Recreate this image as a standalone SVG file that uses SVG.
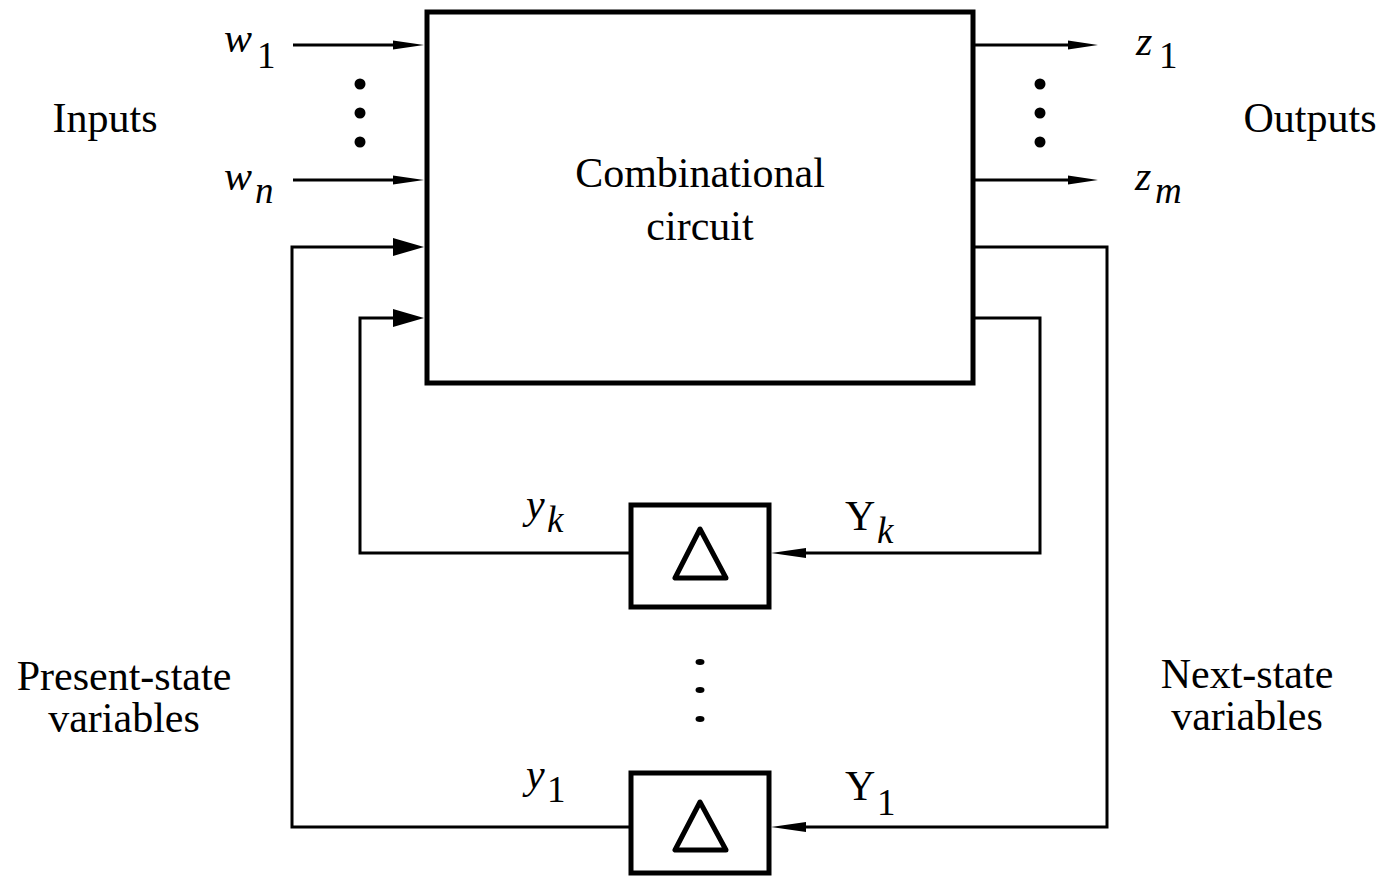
<svg xmlns="http://www.w3.org/2000/svg" width="1382" height="877" viewBox="0 0 1382 877">
<style>
.t{font-family:"Liberation Serif","Times New Roman",serif;font-size:42px;fill:#000}
.i{font-style:italic}
.s{font-size:37px}
.box{fill:none;stroke:#000;stroke-width:5}
.ln{fill:none;stroke:#000;stroke-width:3}
.ah{fill:#000;stroke:none}
.tri{fill:none;stroke:#000;stroke-width:5;stroke-linejoin:round}
</style>
<rect width="1382" height="877" fill="#fff"/>
<g id="comb">
<rect class="box" x="427" y="12" width="546" height="371"/>
<text class="t" x="700" y="187" text-anchor="middle">Combinational</text>
<text class="t" x="700" y="240" text-anchor="middle">circuit</text>
</g>
<g id="delay-k">
<rect class="box" x="631" y="505" width="138" height="102"/>
<polygon class="tri" points="700,529 675,578 726,578"/>
</g>
<g id="delay-1">
<rect class="box" x="631" y="773" width="138" height="100"/>
<polygon class="tri" points="700,802 675,850 726,850"/>
</g>
<g id="connectors">
<path class="ln" d="M293 45H396M293 180H396"/>
<polygon class="ah" points="393,40.5 424,45 393,49.5"/>
<polygon class="ah" points="393,175.5 424,180 393,184.5"/>
<path class="ln" d="M631 827H292V247H396"/>
<polygon class="ah" points="393,238 424,247 393,256"/>
<path class="ln" d="M631 553H360V318H396"/>
<polygon class="ah" points="393,309 424,318 393,327"/>
<path class="ln" d="M975 45H1070M975 180H1070"/>
<polygon class="ah" points="1068,40.5 1098,45 1068,49.5"/>
<polygon class="ah" points="1068,175.5 1098,180 1068,184.5"/>
<path class="ln" d="M975 247H1107V827H803"/>
<polygon class="ah" points="806,822 771,827 806,832"/>
<path class="ln" d="M975 318H1040V553H803"/>
<polygon class="ah" points="806,548 771,553 806,558"/>
</g>
<g id="dots">
<circle cx="360" cy="84" r="5.5"/>
<circle cx="360" cy="113" r="5.5"/>
<circle cx="360" cy="142" r="5.5"/>
<circle cx="1040" cy="84" r="5.5"/>
<circle cx="1040" cy="113" r="5.5"/>
<circle cx="1040" cy="142" r="5.5"/>
<ellipse cx="700" cy="662" rx="4.5" ry="3"/>
<ellipse cx="700" cy="690" rx="4.5" ry="3"/>
<ellipse cx="700" cy="719" rx="4.5" ry="3"/>
</g>
<g id="labels">
<text class="t" x="105" y="132" text-anchor="middle">Inputs</text>
<text class="t" x="1310" y="132" text-anchor="middle">Outputs</text>
<text class="t" x="124" y="690" text-anchor="middle">Present-state</text>
<text class="t" x="124" y="732" text-anchor="middle">variables</text>
<text class="t" x="1247" y="688" text-anchor="middle">Next-state</text>
<text class="t" x="1247" y="730" text-anchor="middle">variables</text>
<text class="t i" x="224" y="52">w</text><text class="t s" x="257" y="68">1</text>
<text class="t i" x="224" y="190">w</text><text class="t s i" x="255" y="203">n</text>
<text class="t i" x="1136" y="55">z</text><text class="t s" x="1159" y="68">1</text>
<text class="t i" x="1135" y="190">z</text><text class="t s i" x="1155" y="203">m</text>
<text class="t i" x="526" y="518">y</text><text class="t s i" x="547" y="532">k</text>
<text class="t" x="845" y="530">Y</text><text class="t s i" x="877" y="543">k</text>
<text class="t i" x="526" y="788">y</text><text class="t s" x="547" y="802">1</text>
<text class="t" x="845" y="800">Y</text><text class="t s" x="877" y="815">1</text>
</g>
</svg>
